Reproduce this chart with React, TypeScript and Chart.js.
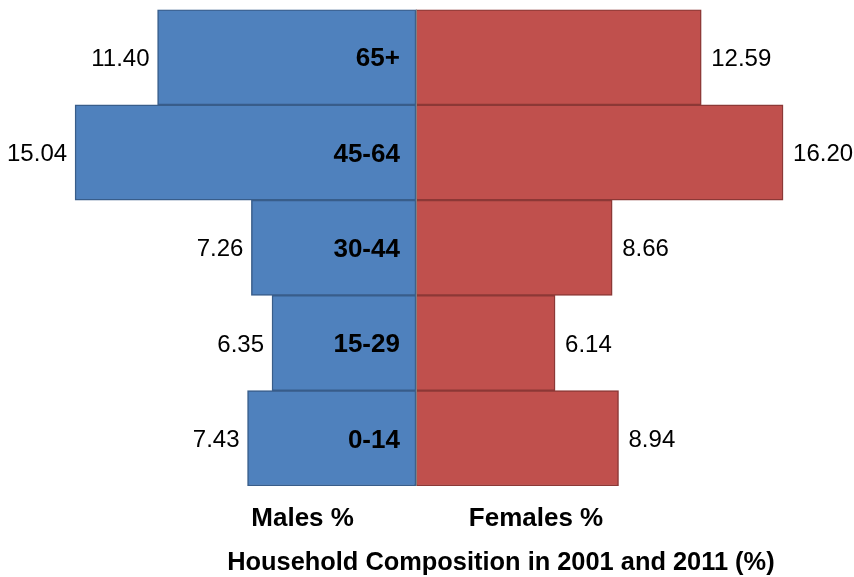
import { useEffect, useRef } from "react";
import { Chart, registerables } from "chart.js";

Chart.register(...registerables);

// age bands, top to bottom
const ageBands = ["65+", "45-64", "30-44", "15-29", "0-14"];
const malesPct = [11.4, 15.04, 7.26, 6.35, 7.43];
const femalesPct = [12.59, 16.2, 8.66, 6.14, 8.94];

const FONT = '"Liberation Sans", Arial, sans-serif';

const pyramidLabels = {
  id: "pyramidLabels",
  afterDatasetsDraw(chart: Chart) {
    const { ctx, chartArea, scales } = chart;
    const x = scales.x;
    const zero = x.getPixelForValue(0);
    const males = chart.getDatasetMeta(0);
    const females = chart.getDatasetMeta(1);

    ctx.save();
    // centre axis line
    ctx.strokeStyle = "#868686";
    ctx.lineWidth = 1;
    ctx.beginPath();
    ctx.moveTo(zero + 0.5, chartArea.top);
    ctx.lineTo(zero + 0.5, chartArea.bottom);
    ctx.stroke();

    ctx.fillStyle = "#000";
    ctx.textBaseline = "middle";
    males.data.forEach((bar: any, i: number) => {
      ctx.font = `24px ${FONT}`;
      ctx.textAlign = "right";
      ctx.fillText(malesPct[i].toFixed(2), bar.x - 8, bar.y + 2);
      ctx.font = `bold 26px ${FONT}`;
      ctx.fillText(ageBands[i], zero - 16, bar.y + 2);
    });
    females.data.forEach((bar: any, i: number) => {
      ctx.font = `24px ${FONT}`;
      ctx.textAlign = "left";
      ctx.fillText(femalesPct[i].toFixed(2), bar.x + 10, bar.y + 2);
    });

    // bottom captions
    ctx.textBaseline = "alphabetic";
    ctx.textAlign = "center";
    ctx.font = `bold 26px ${FONT}`;
    ctx.fillText("Males %", x.getPixelForValue(-5.0), 526);
    ctx.fillText("Females %", x.getPixelForValue(5.3), 526);
    ctx.font = `bold 25.4px ${FONT}`;
    ctx.fillText(
      "Household Composition in 2001 and 2011 (%)",
      x.getPixelForValue(3.75),
      570
    );
    ctx.restore();
  },
};

export default function App() {
  const chartRef = useRef<HTMLCanvasElement>(null);
  const chartInstance = useRef<Chart | null>(null);

  useEffect(() => {
    if (!chartRef.current) return;
    if (chartInstance.current) chartInstance.current.destroy();

    const ctx = chartRef.current.getContext("2d");
    if (!ctx) return;

    chartInstance.current = new Chart(ctx, {
      type: "bar",
      data: {
        labels: ageBands,
        datasets: [
          {
            label: "Males %",
            data: malesPct.map((v) => -v),
            backgroundColor: "#4F81BD",
            borderColor: "#385D8A",
            borderWidth: 1.5,
            borderSkipped: false,
          },
          {
            label: "Females %",
            data: femalesPct,
            backgroundColor: "#C0504D",
            borderColor: "#8C3836",
            borderWidth: 1.5,
            borderSkipped: false,
          },
        ],
      },
      options: {
        indexAxis: "y",
        responsive: true,
        maintainAspectRatio: false,
        animation: false,
        datasets: {
          bar: { barPercentage: 1, categoryPercentage: 1 },
        },
        layout: {
          padding: { left: 8, right: 7.5, top: 9.5, bottom: 91 },
        },
        scales: {
          x: { stacked: true, min: -18, max: 19, display: false },
          y: { stacked: true, display: false },
        },
        plugins: {
          legend: { display: false },
          tooltip: { enabled: false },
        },
      },
      plugins: [pyramidLabels],
    });

    return () => {
      if (chartInstance.current) {
        chartInstance.current.destroy();
        chartInstance.current = null;
      }
    };
  }, []);

  return (
    <div
      style={{
        position: "absolute",
        left: 0,
        top: 0,
        width: 854,
        height: 577,
        background: "#fff",
      }}
    >
      <canvas ref={chartRef} />
    </div>
  );
}
